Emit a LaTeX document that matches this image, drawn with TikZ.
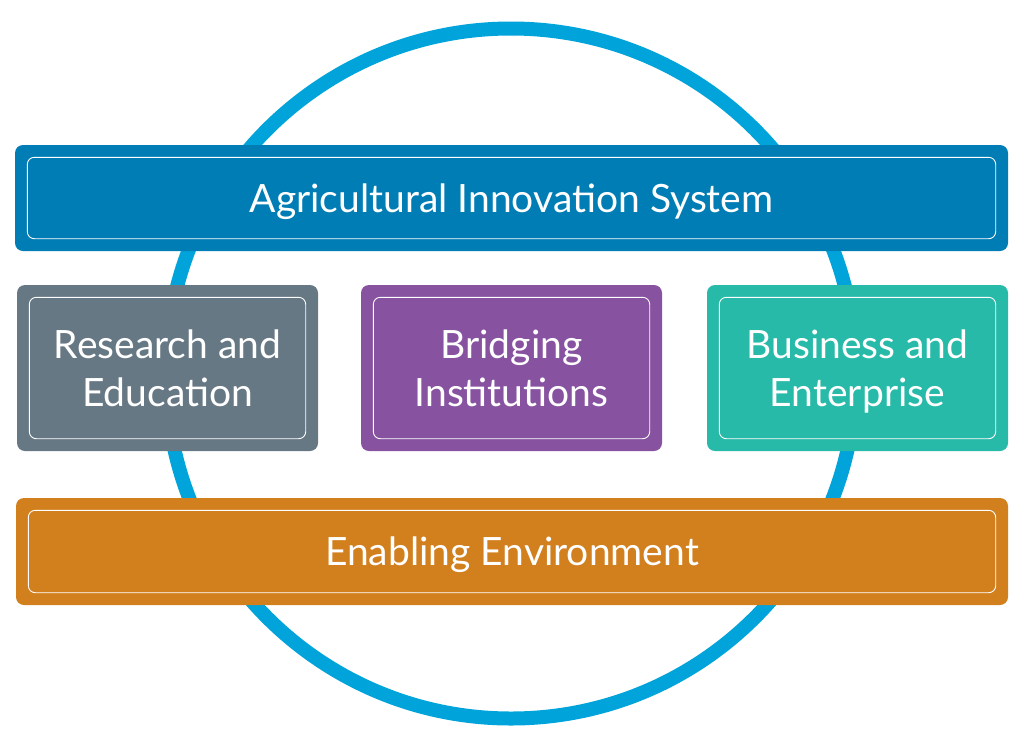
\documentclass[tikz,border=0pt]{standalone}
\usepackage{fontspec}
\setmainfont{Lato}
\definecolor{ringblue}{RGB}{0,164,218}
\definecolor{aisblue}{RGB}{1,125,181}
\definecolor{resgray}{RGB}{103,120,133}
\definecolor{bripurple}{RGB}{135,82,160}
\definecolor{busteal}{RGB}{40,186,168}
\definecolor{envorange}{RGB}{210,127,30}
\tikzset{
  kbox/.style={rounded corners=8pt,inner sep=0pt,text=white,align=center,
    text depth=0pt,font=\fontsize{39}{48}\selectfont},
  kinner/.style={draw=white,line width=0.9pt,rounded corners=7pt},
}
\begin{document}
\begin{tikzpicture}[x=1pt,y=1pt]
\pgfmathsetmacro{\kin}{12.5}
\pgfmathsetmacro{\kmw}{301}
\pgfmathsetmacro{\kmh}{166}
\useasboundingbox (0,0) rectangle (1024,-737);
% ring behind the boxes
\draw[ringblue,line width=14pt] (511,-373.5) circle[radius=345pt];
\node[kbox,fill=aisblue,minimum width=993pt,minimum height=106pt] (ais) at (511.5,-198) {Agricultural Innovation System};
\foreach \kx/\kn/\kcol/\klb in {167.5/rese/resgray/{Research and\\Education},511.5/brid/bripurple/{Bridging\\Institutions},857.5/busi/busteal/{Business and\\Enterprise}}{\node[kbox,fill=\kcol,minimum width=\kmw pt,minimum height=\kmh pt] (\kn) at (\kx,-368) {\klb};}
\node[kbox,fill=envorange,minimum width=992pt,minimum height=107pt] (env) at (512,-551.5) {Enabling Environment};
% thin inner frames
\foreach \kn in {ais,rese,brid,busi,env}{\draw[kinner] ([shift={(\kin,-\kin)}]\kn.north west) rectangle ([shift={(-\kin,\kin)}]\kn.south east);}
\end{tikzpicture}
\end{document}
